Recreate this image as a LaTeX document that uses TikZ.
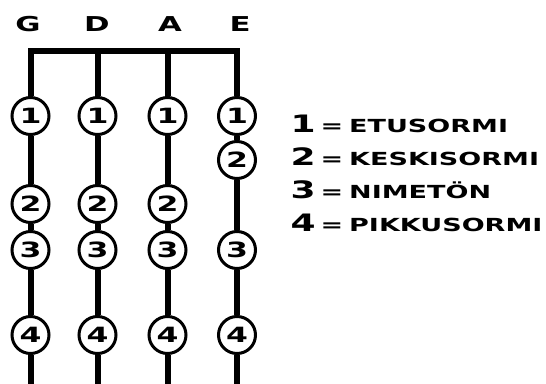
\documentclass[tikz,border=0pt]{standalone}
\usepackage{fontspec}
\newfontfamily\copperfont{DejaVu Sans Bold}[FakeStretch=1.5]
\usetikzlibrary{positioning}
\newcommand\legdigit[1]{{\fontsize{24}{24}\selectfont#1}}

\begin{document}
\begin{tikzpicture}[x=1pt,y=-1pt,
	string/.style={line width=6pt},
	finger/.style={circle,draw,line width=3pt,fill=white,minimum size=37pt,inner sep=0pt,
		font=\copperfont\fontsize{21}{21}\selectfont},
	stringname/.style={anchor=base,font=\copperfont\fontsize{20.5}{20.5}\selectfont},
	legend/.style={anchor=base west,font=\copperfont\fontsize{18}{18}\selectfont}]

	\useasboundingbox (0,0) rectangle (546,383);

	% string names and ends
	\foreach \s/\x/\lx in {G/30.5/28,D/97.5/97,A/167.5/170,E/237/240}{
		\coordinate (top\s) at (\x,50.5);
		\coordinate (end\s) at (\x,388);
		\node[stringname] (name\s) at (\lx,31.5) {\s};
	}

	% fingers on G, D and A
	\foreach \s/\x in {G/30.5,D/97.5,A/167.5}{
		\node[finger] (\s1) at (\x,116) {1};
		\node[finger] (\s2) at (\x,204) {2};
		\node[finger] (\s3) at (\x,250) {3};
		\node[finger] (\s4) at (\x,335) {4};
	}
	% fingers on E
	\node[finger] (E1) at (237,116) {1};
	\node[finger] (E2) at (237,160) {2};
	\node[finger] (E3) at (237,250) {3};
	\node[finger] (E4) at (237,335) {4};

	% strings
	\draw[string,line cap=rect] (topG) -- (topE);
	\foreach \s in {G,D,A,E}
		\draw[string] (top\s) -- (\s1) (\s1) -- (\s2) (\s2) -- (\s3) (\s3) -- (\s4) (\s4) -- (end\s);

	% legend
	\node[legend] (leg1) at (287,132) {\legdigit{1}\hspace{5pt}=\hspace{6pt}ETUSORMI};
	\node[legend] (leg2) at (287,165) {\legdigit{2}\hspace{5pt}=\hspace{6pt}KESKISORMI};
	\node[legend] (leg3) at (287,198) {\legdigit{3}\hspace{5pt}=\hspace{6pt}NIMETÖN};
	\node[legend] (leg4) at (287,231) {\legdigit{4}\hspace{5pt}=\hspace{6pt}PIKKUSORMI};

\end{tikzpicture}
\end{document}
